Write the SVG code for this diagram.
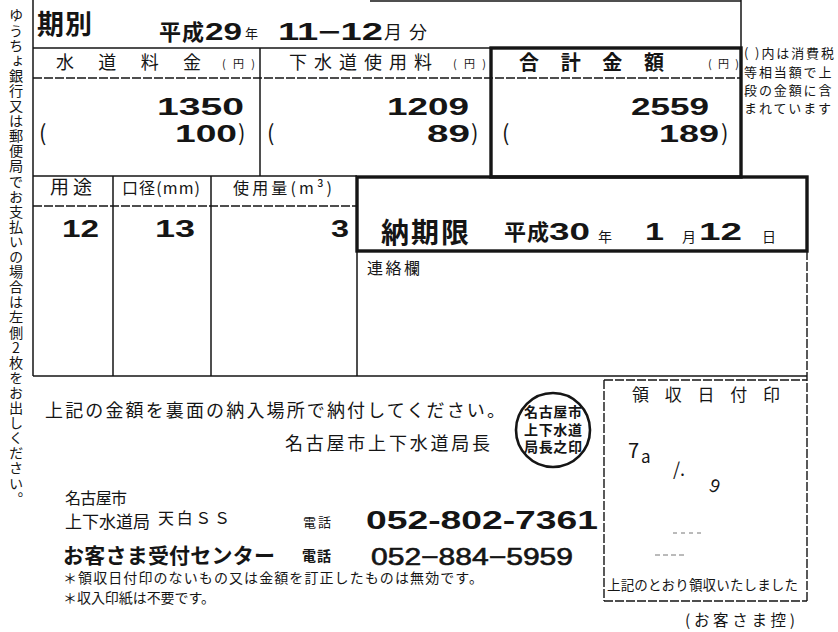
<svg xmlns="http://www.w3.org/2000/svg" width="838" height="632" viewBox="0 0 838 632">
<style>
text{font-family:"Noto Sans CJK JP","Noto Sans CJK SC",sans-serif;fill:#151515}
.l{font-weight:400}
.b{font-weight:700}
.n{font-family:"Liberation Sans",Arial,sans-serif;font-weight:700}
.p{font-family:"Liberation Sans",Arial,sans-serif;font-weight:400;stroke:#151515;stroke-width:0.6}
.ln{stroke:#151515;stroke-width:1.5;fill:none}
.ds{stroke:#151515;stroke-width:1.4;fill:none;stroke-dasharray:9 2}
.tk{stroke:#151515;stroke-width:3.4;fill:none}
.vt{writing-mode:vertical-rl;text-orientation:upright}
</style>
<rect width="838" height="632" fill="#fff"/>

<g id="frame">
<line class="ln" x1="33" y1="0" x2="33" y2="376"/>
<line class="ln" x1="370" y1="1" x2="741" y2="1"/>
<line class="ln" x1="741" y1="0" x2="741" y2="48"/>
<line class="ln" x1="33" y1="48" x2="491" y2="48"/>
<line class="ds" x1="33" y1="78" x2="741" y2="78"/>
<line class="ln" x1="260" y1="48" x2="260" y2="176"/>
<line class="ln" x1="33" y1="176" x2="357" y2="176"/>
<rect class="tk" x="491" y="48" width="250" height="129"/>
<rect class="tk" x="357" y="177" width="450" height="74"/>
<line class="ds" x1="33" y1="206" x2="357" y2="206"/>
<line class="ln" x1="113" y1="176" x2="113" y2="376"/>
<line class="ln" x1="211" y1="176" x2="211" y2="376"/>
<line class="ln" x1="357" y1="251" x2="357" y2="376"/>
<line class="ln" x1="33" y1="376" x2="807" y2="376"/>
<line class="ds" x1="807" y1="251" x2="807" y2="601"/>
<line class="ds" x1="604" y1="380" x2="807" y2="380"/>
<line class="ds" x1="604" y1="380" x2="604" y2="601"/>
<line class="ds" x1="604" y1="601" x2="807" y2="601"/>
</g>

<g id="side-note">
<text class="l vt" x="16" y="8" font-size="14.2" letter-spacing="0.9">ゆうちょ銀行又は郵便局でお支払いの場合は左側2枚をお出しください。</text>
</g>

<g id="period">
<text class="b" x="37" y="34" font-size="27" textLength="55">期別</text>
<text class="b" x="159" y="40" font-size="22" textLength="45">平成</text>
<text class="n" x="205" y="40" font-size="23" textLength="37" lengthAdjust="spacingAndGlyphs">29</text>
<text class="l" x="245" y="38" font-size="13">年</text>
<text class="n" x="278" y="40" font-size="23" textLength="105" lengthAdjust="spacingAndGlyphs">11−12</text>
<text class="l" x="384" y="39" font-size="18" textLength="43">月分</text>
</g>

<g id="water-fee">
<text class="l" x="56" y="69" font-size="18" textLength="145">水道料金</text>
<text class="l" x="222" y="68" font-size="11" textLength="33">(円)</text>
<text class="n" x="157" y="115" font-size="23.5" textLength="87" lengthAdjust="spacingAndGlyphs">1350</text>
<text class="l" x="39" y="141" font-size="22">(</text>
<text class="n" x="175" y="142" font-size="23.5" textLength="62" lengthAdjust="spacingAndGlyphs">100</text>
<text class="l" x="238" y="141" font-size="22">)</text>
</g>

<g id="sewer-fee">
<text class="l" x="289" y="69" font-size="18" textLength="143">下水道使用料</text>
<text class="l" x="453" y="68" font-size="11" textLength="33">(円)</text>
<text class="n" x="387" y="115" font-size="23.5" textLength="82" lengthAdjust="spacingAndGlyphs">1209</text>
<text class="l" x="267" y="141" font-size="22">(</text>
<text class="n" x="427" y="142" font-size="23.5" textLength="43" lengthAdjust="spacingAndGlyphs">89</text>
<text class="l" x="471" y="141" font-size="22">)</text>
</g>

<g id="total">
<text class="b" x="519" y="70" font-size="20" textLength="145">合計金額</text>
<text class="l" x="708" y="68" font-size="11" textLength="31">(円)</text>
<text class="n" x="631" y="115" font-size="23.5" textLength="78" lengthAdjust="spacingAndGlyphs">2559</text>
<text class="l" x="502" y="141" font-size="22">(</text>
<text class="n" x="659" y="142" font-size="23.5" textLength="60" lengthAdjust="spacingAndGlyphs">189</text>
<text class="l" x="721" y="141" font-size="22">)</text>
</g>

<g id="usage">
<text class="l" x="50" y="194" font-size="19" textLength="42">用途</text>
<text class="l" x="122" y="194" font-size="16" textLength="78">口径(mm)</text>
<text class="l" x="233" y="194" font-size="16" textLength="99">使用量(m³)</text>
<text class="n" x="62" y="237" font-size="24" textLength="37" lengthAdjust="spacingAndGlyphs">12</text>
<text class="n" x="155" y="237" font-size="24" textLength="40" lengthAdjust="spacingAndGlyphs">13</text>
<text class="n" x="331" y="237" font-size="24" textLength="18" lengthAdjust="spacingAndGlyphs">3</text>
</g>

<g id="due-date">
<text class="b" x="381" y="243" font-size="28" textLength="88">納期限</text>
<text class="b" x="504" y="240" font-size="22" textLength="45">平成</text>
<text class="n" x="549" y="240" font-size="23" textLength="41" lengthAdjust="spacingAndGlyphs">30</text>
<text class="l" x="598" y="242" font-size="14">年</text>
<text class="n" x="645" y="240" font-size="23" textLength="19" lengthAdjust="spacingAndGlyphs">1</text>
<text class="l" x="682" y="242" font-size="14">月</text>
<text class="n" x="699" y="240" font-size="23" textLength="43" lengthAdjust="spacingAndGlyphs">12</text>
<text class="l" x="762" y="242" font-size="14">日</text>
</g>

<g id="contact">
<text class="l" x="367" y="274" font-size="16" textLength="53">連絡欄</text>
</g>

<g id="tax-note">
<text class="l" x="744" y="58" font-size="13" letter-spacing="1.9">( )内は消費税</text>
<text class="l" x="744" y="77" font-size="13" letter-spacing="1.9">等相当額で上</text>
<text class="l" x="744" y="95" font-size="13" letter-spacing="1.9">段の金額に含</text>
<text class="l" x="744" y="113" font-size="13" letter-spacing="1.9">まれています</text>
</g>

<g id="notice">
<text class="l" x="45" y="417" font-size="18" textLength="460">上記の金額を裏面の納入場所で納付してください。</text>
<text class="l" x="285" y="450" font-size="18" textLength="205">名古屋市上下水道局長</text>
</g>

<g id="seal">
<circle cx="553" cy="430" r="37" fill="none" stroke="#151515" stroke-width="2.6"/>
<text class="b" x="524" y="417" font-size="14" textLength="58">名古屋市</text>
<text class="b" x="524" y="434.5" font-size="14" textLength="58">上下水道</text>
<text class="b" x="524" y="452" font-size="14" textLength="58">局長之印</text>
</g>

<g id="office">
<text class="l" x="65" y="504" font-size="16" textLength="62">名古屋市</text>
<text class="l" x="65" y="528" font-size="17" textLength="85">上下水道局</text>
<text class="l" x="158" y="524" font-size="16" textLength="72">天白ＳＳ</text>
<text class="l" x="303" y="527" font-size="13" textLength="28">電話</text>
<text class="n" x="366" y="529" font-size="26" textLength="232" lengthAdjust="spacingAndGlyphs">052-802-7361</text>
<text class="b" x="63" y="563" font-size="21" textLength="212">お客さま受付センター</text>
<text class="b" x="302" y="561" font-size="14" textLength="29">電話</text>
<text class="p" x="371" y="565" font-size="24" textLength="202" lengthAdjust="spacingAndGlyphs">052−884−5959</text>
<text class="l" x="63" y="583" font-size="14" textLength="420">＊領収日付印のないもの又は金額を訂正したものは無効です。</text>
<text class="l" x="63" y="603" font-size="14" textLength="152">＊収入印紙は不要です。</text>
</g>

<g id="receipt">
<text class="l" x="632" y="401" font-size="17" textLength="148">領収日付印</text>
<text class="l" x="628" y="458" font-size="20" fill="#333">7</text>
<text class="l" x="641" y="463" font-size="17" fill="#333">a</text>
<text class="l" x="673" y="476" font-size="18" fill="#333">/.</text>
<text class="l" x="710" y="493" font-size="18" fill="#333" transform="rotate(20 717 486)">9</text>
<line x1="673" y1="533" x2="703" y2="533" stroke="#777" stroke-width="1" stroke-dasharray="4 4"/>
<line x1="655" y1="555" x2="687" y2="555" stroke="#777" stroke-width="1" stroke-dasharray="5 3"/>
<text class="l" x="607" y="590" font-size="13.5" textLength="191">上記のとおり領収いたしました</text>
<text class="l" x="685" y="626" font-size="15.5" textLength="110">(お客さま控)</text>
</g>
</svg>
